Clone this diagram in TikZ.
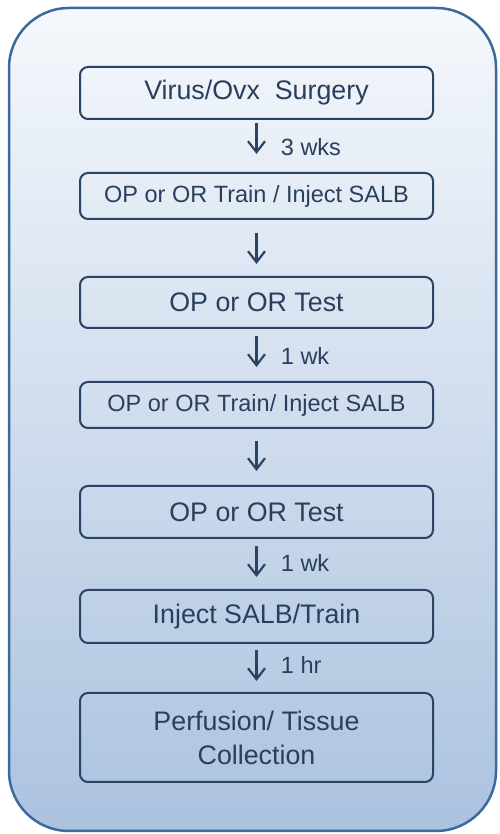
\documentclass[tikz,border=0pt]{standalone}
\usepackage{fontspec}
\setmainfont{Liberation Sans}
\usepackage{xcolor}
\usetikzlibrary{arrows.meta,positioning}
\definecolor{frame}{HTML}{3B6A9C}
\definecolor{boxline}{HTML}{2B4364}
\definecolor{ink}{HTML}{2A3F5E}
\definecolor{paletop}{HTML}{F5F8FC}
\definecolor{palebot}{HTML}{ABC2DF}

\begin{document}
\begin{tikzpicture}[
  x=1pt,y=1pt,
  every node/.style={text=ink,align=center},
  stage/.style={draw=boxline,line width=2pt,rounded corners=8pt,minimum width=353pt,
    font=\fontsize{26.8}{34}\selectfont},
  small/.style={font=\fontsize{23.5}{28}\selectfont},
  arr/.style={-{Straight Barb[length=11pt,width=17pt,line width=2.2pt]},line width=2.2pt,boxline},
  lag/.style={right=20pt,font=\fontsize{23.5}{28}\selectfont}
]
\useasboundingbox (0,0) rectangle (499,834);
\draw[draw=frame,line width=2.5pt,rounded corners=60pt,top color=paletop,bottom color=palebot]
  (9,3) rectangle (496,826);
\node[stage,minimum height=52pt] (surgery) at (256.5,741) {Virus/Ovx\ \ Surgery};
\node[stage,small,minimum height=46pt,below=52pt of surgery] (trainA) {OP or OR Train / Inject SALB};
\node[stage,minimum height=51pt,below=56pt of trainA] (testA) {OP or OR Test};
\node[stage,small,minimum height=46pt,below=52pt of testA] (trainB) {OP or OR Train/ Inject SALB};
\node[stage,minimum height=52pt,below=56pt of trainB] (testB) {OP or OR Test};
\node[stage,minimum height=53pt,below=50pt of testB] (inject) {Inject SALB/Train};
\node[stage,minimum height=89pt,below=48pt of inject] (perfuse) {Perfusion/ Tissue\\Collection};
\draw[arr,shorten <=3pt,shorten >=18pt] (surgery.south) -- node[lag,pos=0.52]{3 wks} (trainA.north);
\draw[arr,shorten <=13pt,shorten >=12pt] (trainA.south) -- (testA.north);
\draw[arr,shorten <=7pt,shorten >=14pt] (testA.south) -- node[lag,pos=0.52]{1 wk} (trainB.north);
\draw[arr,shorten <=12pt,shorten >=14pt] (trainB.south) -- (testB.north);
\draw[arr,shorten <=7pt,shorten >=12pt] (testB.south) -- node[lag,pos=0.48]{1 wk} (inject.north);
\draw[arr,shorten <=6pt,shorten >=11pt] (inject.south) -- node[lag,pos=0.44]{1 hr} (perfuse.north);
\end{tikzpicture}
\end{document}
